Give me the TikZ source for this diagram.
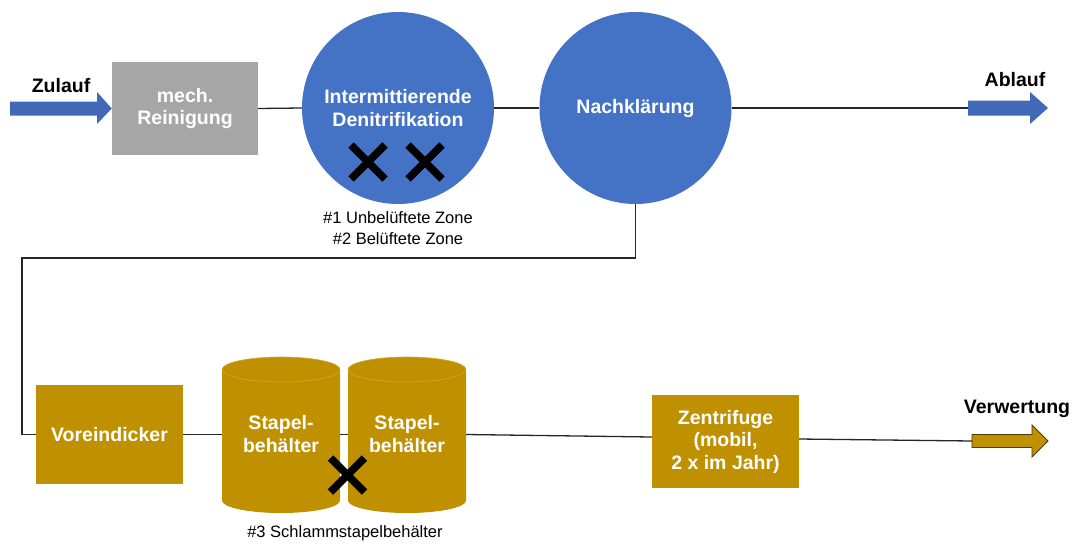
\documentclass[tikz,border=0pt]{standalone}
\usepackage{fontspec}
\setmainfont{Liberation Sans}
\usetikzlibrary{calc}
\definecolor{blu}{HTML}{4472C4}
\definecolor{arrblu}{HTML}{4169B8}
\definecolor{gold}{HTML}{BF9000}
\definecolor{goldrim}{HTML}{CFA837}
\definecolor{goldedge}{HTML}{4A3A08}
\definecolor{grey}{HTML}{A6A6A6}
\begin{document}
\begin{tikzpicture}[x=1pt,y=-1pt,
  wire/.style={draw=black!85, line width=1.3pt},
  boxtext/.style={text=white, font=\bfseries\fontsize{19.5}{22.5}\selectfont, align=center, inner sep=0pt},
  procbox/.style={boxtext, rectangle, fill=gold, minimum width=147pt, minimum height=93pt},
  tank/.style={boxtext, circle, fill=blu, minimum size=192pt},
  flowlabel/.style={font=\bfseries\fontsize{19.5}{22.5}\selectfont, text=black, inner sep=0pt},
  note/.style={font=\fontsize{16.5}{21}\selectfont, text=black, align=center, inner sep=0pt},
  cross/.style={draw=black, line width=7.5pt},
  rim/.style={draw=goldrim, line width=0.6pt}]
\useasboundingbox (0,0) rectangle (1078,544);

% --- upper line: mechanical and biological stage ---
\node[procbox, fill=grey, minimum width=146pt] (mech) at (185,108.5) {mech.\\Reinigung};
\node[tank] (deni) at (398,108) {Intermittierende\\Denitrifikation};
\node[tank] (nach) at (635.5,108) {Nachklärung};

% inflow arrow
\coordinate (zin) at (10,108.5);
\fill[arrblu] (zin) ++(0,-7) -- (97,101.5) -- (97,92) -- (mech.west) -- (97,124) -- (97,115.5) -- (10,115.5) -- cycle;
\node[flowlabel] (zulauf) at (61,86) {Zulauf};

% outflow arrow
\coordinate (ain) at (968,108);
\fill[arrblu] (ain) ++(0,-7.5) -- (1030,100.5) -- (1030,92) -- (1048,108) -- (1030,124) -- (1030,115.5) -- (968,115.5) -- cycle;
\node[flowlabel] (ablauf) at (1015,80) {Ablauf};

\draw[wire] (mech.east) -- (deni.west);
\draw[wire] (deni.east) -- (nach.west);
\draw[wire] (nach.east) -- (ain);

% zones marked in the denitrification tank
\coordinate (x1) at (368,162);
\coordinate (x2) at (425,162);
\foreach \c in {x1,x2}{
  \draw[cross] ($(\c)+(-17,-17)$) -- ($(\c)+(17,17)$);
  \draw[cross] ($(\c)+(-17,17)$) -- ($(\c)+(17,-17)$);
}
\node[note] (zones) at (398,228.5) {\#1 Unbelüftete Zone\\\#2 Belüftete Zone};

% --- lower line: sludge treatment ---
\node[procbox, minimum height=99pt] (vor) at (109.5,434.5) {Voreindicker};

% storage tanks (cylinders)
\foreach \cx/\nm in {281/s1, 407/s2}{
  \fill[gold] (\cx-59,369.5) -- (\cx-59,500.5)
     arc[start angle=180,end angle=360,x radius=59pt,y radius=12.5pt]
     -- (\cx+59,369.5)
     arc[start angle=0,end angle=180,x radius=59pt,y radius=12.5pt] -- cycle;
  \draw[rim] (\cx,369.5) ellipse [x radius=59pt, y radius=12.5pt];
  \node[boxtext] (\nm) at (\cx,434) {Stapel-\\behälter};
  \coordinate (\nm w) at (\cx-59,434.5);
  \coordinate (\nm e) at (\cx+59,434.5);
}
\coordinate (x3) at (347.5,475);
\draw[cross] ($(x3)+(-17,-17)$) -- ($(x3)+(17,17)$);
\draw[cross] ($(x3)+(-17,17)$) -- ($(x3)+(17,-17)$);
\node[note] (sstb) at (345,533) {\#3 Schlammstapelbehälter};

\node[procbox] (zent) at (725.5,441.5) {Zentrifuge\\(mobil,\\2 x im Jahr)};

% recovery arrow
\coordinate (vin) at (972,441);
\draw[fill=gold, draw=goldedge, line width=0.8pt] (vin) ++(0,-6.5) -- (1032,434.5) -- (1032,425) -- (1048,441) -- (1032,457) -- (1032,447.5) -- (972,447.5) -- cycle;
\node[flowlabel] (verw) at (1017,409) {Verwertung};

% connections
\draw[wire] (nach.south) -- (635.5,258) -- (22,258) |- (vor.west);
\draw[wire] (vor.east) -- (s1w);
\draw[wire] (s1e) -- (s2w);
\draw[wire] (s2e) -- ([yshift=4.5pt]zent.west);
\draw[wire] ([yshift=2.5pt]zent.east) -- (vin);
\end{tikzpicture}
\end{document}
